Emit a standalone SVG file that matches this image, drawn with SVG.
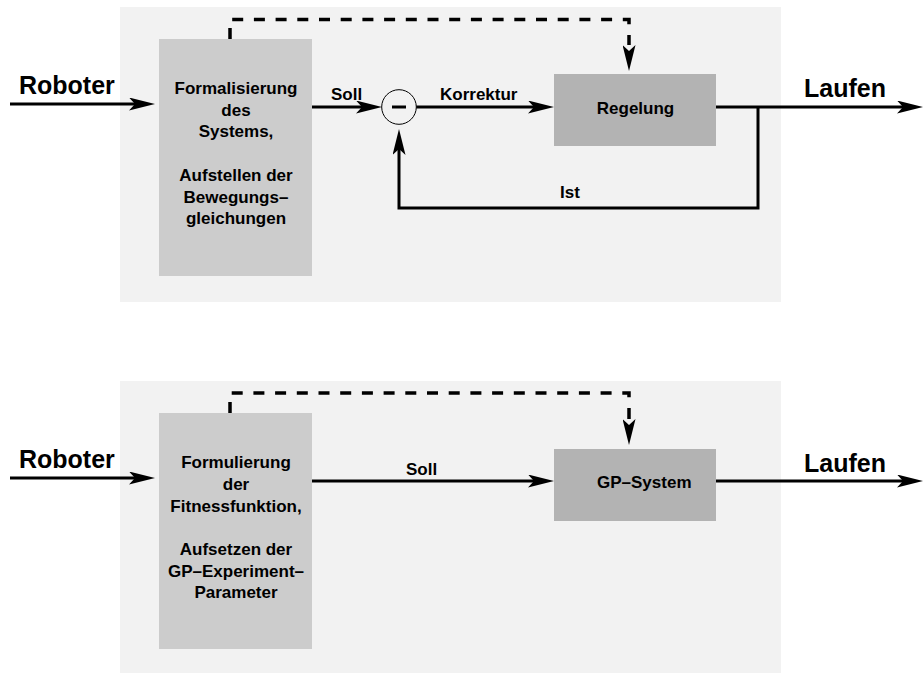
<svg xmlns="http://www.w3.org/2000/svg" width="923" height="673" viewBox="0 0 923 673">
<style>
text{font-family:"Liberation Sans",Arial,sans-serif;font-weight:bold;fill:#000}
.big{font-size:25px}
.lbl{font-size:17px}
.panel{fill:#f2f2f2}
.box1{fill:#cccccc}
.box2{fill:#b3b3b3}
.ln{fill:none;stroke:#000;stroke-width:3}
.dash{fill:none;stroke:#000;stroke-width:3.5;stroke-dasharray:11 10.7}
</style>
<defs>
<marker id="ah" markerUnits="userSpaceOnUse" viewBox="0 0 26 13" markerWidth="26" markerHeight="13" refX="6" refY="6.5" orient="auto">
<path d="M0,0 L26,6.5 L0,13 L6,6.5 Z" fill="#000"/>
</marker>
</defs>
<rect class="panel" x="120" y="7" width="661" height="295"/>
<rect class="panel" x="120" y="381" width="661" height="292"/>
<g id="top-formal">
<rect class="box1" x="159" y="39" width="153" height="237"/>
<text class="lbl" text-anchor="middle" x="236" y="94">Formalisierung</text>
<text class="lbl" text-anchor="middle" x="236" y="115.5">des</text>
<text class="lbl" text-anchor="middle" x="236" y="137">Systems,</text>
<text class="lbl" text-anchor="middle" x="236" y="181">Aufstellen der</text>
<text class="lbl" text-anchor="middle" x="236" y="202.5">Bewegungs–</text>
<text class="lbl" text-anchor="middle" x="236" y="224">gleichungen</text>
</g>
<g id="top-sum">
<circle cx="399" cy="107" r="17.3" fill="#f2f2f2" stroke="#000" stroke-width="1"/>
<line x1="392" y1="107" x2="406" y2="107" stroke="#000" stroke-width="3"/>
</g>
<g id="top-regelung">
<rect class="box2" x="554" y="74" width="162" height="72"/>
<text class="lbl" text-anchor="middle" x="635.5" y="114">Regelung</text>
</g>
<g id="bot-formul">
<rect class="box1" x="159" y="413" width="153" height="236"/>
<text class="lbl" text-anchor="middle" x="236" y="468">Formulierung</text>
<text class="lbl" text-anchor="middle" x="236" y="490">der</text>
<text class="lbl" text-anchor="middle" x="236" y="512">Fitnessfunktion,</text>
<text class="lbl" text-anchor="middle" x="236" y="555">Aufsetzen der</text>
<text class="lbl" text-anchor="middle" x="236" y="576.5">GP–Experiment–</text>
<text class="lbl" text-anchor="middle" x="236" y="598">Parameter</text>
</g>
<g id="bot-gp">
<rect class="box2" x="554" y="449" width="162" height="72"/>
<text class="lbl" x="597" y="488">GP–System</text>
</g>
<g id="connectors">
<path class="ln" d="M10,104 H135" marker-end="url(#ah)"/>
<path class="ln" d="M312,107 H362" marker-end="url(#ah)"/>
<path class="ln" d="M416.3,107 H534" marker-end="url(#ah)"/>
<path class="ln" d="M716,107 H903" marker-end="url(#ah)"/>
<path class="ln" d="M758,107 V208 H399 V149" marker-end="url(#ah)"/>
<path class="dash" d="M230,39 V19.5 H629 V45"/>
<path d="M629,45 V51" stroke="none" marker-end="url(#ah)"/>
<path class="ln" d="M10,478 H135" marker-end="url(#ah)"/>
<path class="ln" d="M312,481 H534" marker-end="url(#ah)"/>
<path class="ln" d="M716,481 H903" marker-end="url(#ah)"/>
<path class="dash" d="M230,413 V393 H629 V419"/>
<path d="M629,419 V425" stroke="none" marker-end="url(#ah)"/>
</g>
<g id="labels">
<text class="big" x="19" y="94">Roboter</text>
<text class="big" x="804" y="97">Laufen</text>
<text class="lbl" x="331" y="100">Soll</text>
<text class="lbl" x="440" y="100">Korrektur</text>
<text class="lbl" x="560" y="198">Ist</text>
<text class="big" x="19" y="468">Roboter</text>
<text class="big" x="804" y="472">Laufen</text>
<text class="lbl" x="406" y="475">Soll</text>
</g>
</svg>
